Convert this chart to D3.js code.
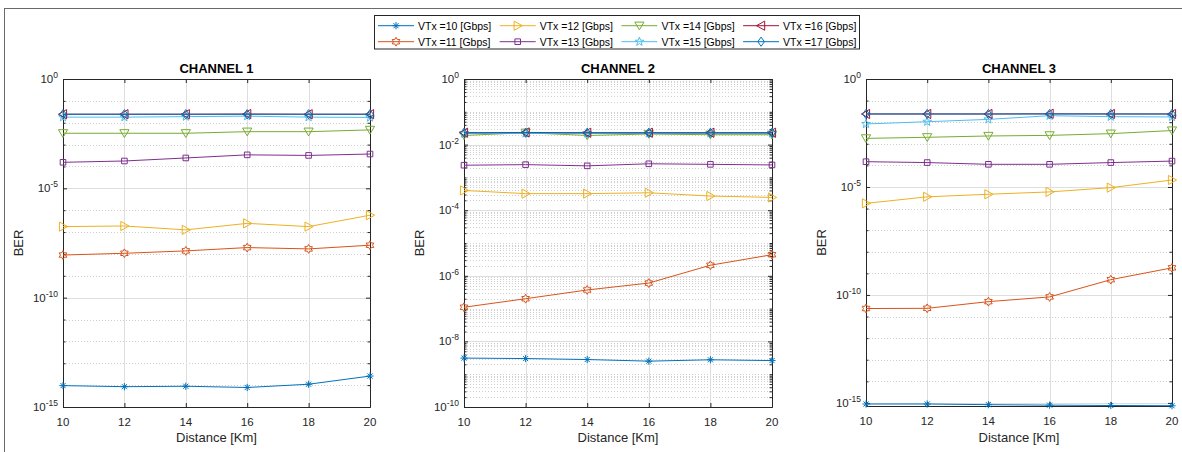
<!DOCTYPE html>
<html>
<head>
<meta charset="utf-8">
<script src="https://cdn.jsdelivr.net/npm/d3@7"></script>
<style>
  html, body { margin: 0; padding: 0; background: #fff; }
  svg { display: block; font-family: "Liberation Sans", Arial, Helvetica, sans-serif; }
</style>
</head>
<body>
<svg id="chart" width="1182" height="452"></svg>
<script>
// ---------------- DATA ----------------
const distance = [10, 12, 14, 16, 18, 20];
const xTickValues = [10, 12, 14, 16, 18, 20];
const seriesLabels = ["VTx =10 [Gbps]", "VTx =11 [Gbps]", "VTx =12 [Gbps]", "VTx =13 [Gbps]",
                      "VTx =14 [Gbps]", "VTx =15 [Gbps]", "VTx =16 [Gbps]", "VTx =17 [Gbps]"];
const panelTitles = ["CHANNEL 1", "CHANNEL 2", "CHANNEL 3"];
const ch1YTickExps = [0, -5, -10, -15];
const ch2YTickExps = [0, -2, -4, -6, -8, -10];
const ch3YTickExps = [0, -5, -10, -15];

// BER values, one row per VTx (10..17), columns = distance
const ch1 = [
  [9.5e-15, 8.5e-15, 8.9e-15, 7.8e-15, 1.1e-14, 2.6e-14],
  [8.9e-9, 1.07e-8, 1.38e-8, 1.95e-8, 1.7e-8, 2.5e-8],
  [1.78e-7, 1.9e-7, 1.26e-7, 2.5e-7, 1.78e-7, 5.9e-7],
  [1.55e-4, 1.78e-4, 2.45e-4, 3.4e-4, 3.2e-4, 3.7e-4],
  [3.3e-3, 3.3e-3, 3.3e-3, 3.9e-3, 3.9e-3, 4.7e-3],
  [1.8e-2, 1.8e-2, 1.9e-2, 2.0e-2, 1.8e-2, 1.75e-2],
  [2.45e-2, 2.45e-2, 2.45e-2, 2.5e-2, 2.45e-2, 2.45e-2],
  [2.45e-2, 2.45e-2, 2.45e-2, 2.45e-2, 2.45e-2, 2.45e-2]
];
const ch2 = [
  [3.1e-9, 3.0e-9, 2.8e-9, 2.5e-9, 2.75e-9, 2.6e-9],
  [1.1e-7, 2.0e-7, 3.7e-7, 6.0e-7, 2.1e-6, 4.4e-6],
  [4.0e-4, 3.2e-4, 3.2e-4, 3.4e-4, 2.7e-4, 2.45e-4],
  [2.35e-3, 2.45e-3, 2.25e-3, 2.6e-3, 2.5e-3, 2.4e-3],
  [1.9e-2, 2.3e-2, 1.9e-2, 2.1e-2, 2.0e-2, 2.0e-2],
  [2.2e-2, 2.2e-2, 2.2e-2, 2.2e-2, 2.2e-2, 2.2e-2],
  [2.3e-2, 2.35e-2, 2.3e-2, 2.3e-2, 2.3e-2, 2.3e-2],
  [2.3e-2, 2.3e-2, 2.3e-2, 2.3e-2, 2.3e-2, 2.3e-2]
];
const ch3 = [
  [8.9e-16, 8.9e-16, 8.3e-16, 7.9e-16, 7.6e-16, 7.4e-16],
  [2.35e-11, 2.4e-11, 4.9e-11, 8.1e-11, 5.1e-10, 1.8e-9],
  [1.74e-6, 3.5e-6, 4.6e-6, 5.9e-6, 9.3e-6, 2.1e-5],
  [1.48e-4, 1.35e-4, 1.12e-4, 1.12e-4, 1.35e-4, 1.58e-4],
  [1.78e-3, 2.0e-3, 2.3e-3, 2.45e-3, 2.95e-3, 4.1e-3],
  [8.3e-3, 1.05e-2, 1.35e-2, 2.0e-2, 1.8e-2, 1.75e-2],
  [2.4e-2, 2.4e-2, 2.4e-2, 2.45e-2, 2.4e-2, 2.4e-2],
  [2.4e-2, 2.4e-2, 2.4e-2, 2.4e-2, 2.4e-2, 2.4e-2]
];

// ---------------- STYLE ----------------
const seriesColors = ["#0072BD", "#D95319", "#EDB120", "#7E2F8E", "#77AC30", "#4DBEEE", "#A2142F", "#0072BD"];
const seriesMarkers = ["asterisk", "hexagram", "triRight", "square", "triDown", "pentagram", "triLeft", "diamond"];

function starPath(n, rOut, rIn) {
  const pts = [];
  for (let i = 0; i < 2 * n; i++) {
    const r = i % 2 === 0 ? rOut : rIn;
    const a = -Math.PI / 2 + i * Math.PI / n;
    pts.push([r * Math.cos(a), r * Math.sin(a)]);
  }
  return "M" + pts.map(p => p[0].toFixed(2) + "," + p[1].toFixed(2)).join("L") + "Z";
}
function markerPath(type) {
  switch (type) {
    case "asterisk": { const r = 3.6, d = r * 0.707;
      return `M${-r},0H${r}M0,${-r}V${r}M${-d},${-d}L${d},${d}M${-d},${d}L${d},${-d}`; }
    case "hexagram": return starPath(6, 4.4, 2.55);
    case "triRight": return "M4.6,0L-3.6,-4.6L-3.6,4.6Z";
    case "square": return "M-2.8,-2.8H2.8V2.8H-2.8Z";
    case "triDown": return "M0,4.2L-4.6,-3.6L4.6,-3.6Z";
    case "pentagram": return starPath(5, 4.6, 1.9);
    case "triLeft": return "M-4.6,0L3.6,-4.6L3.6,4.6Z";
    case "diamond": return "M0,-4.6L3.3,0L0,4.6L-3.3,0Z";
  }
}

const panels = [
  { title: panelTitles[0], data: ch1, ticks: ch1YTickExps, x0: 63, x1: 370, y0: 79, y1: 407, yMin: 1e-15, dense: false },
  { title: panelTitles[1], data: ch2, ticks: ch2YTickExps, x0: 464, x1: 772, y0: 79, y1: 407, yMin: 1e-10, dense: true },
  { title: panelTitles[2], data: ch3, ticks: ch3YTickExps, x0: 866, x1: 1172, y0: 79, y1: 406, yMin: 7.2e-16, dense: false }
];

const svg = d3.select("#chart");
// figure frame (cropped)
svg.append("rect").attr("x", 4.5).attr("y", 8.5).attr("width", 1200).attr("height", 500)
  .attr("fill", "none").attr("stroke", "#6a6a6a").attr("stroke-width", 1);

const axisColor = "#262626";

panels.forEach(p => {
  const g = svg.append("g");
  const x = d3.scaleLinear().domain([10, 20]).range([p.x0, p.x1]);
  const y = d3.scaleLog().domain([p.yMin, 1]).range([p.y1, p.y0]);

  g.append("rect").attr("x", p.x0).attr("y", p.y0).attr("width", p.x1 - p.x0).attr("height", p.y1 - p.y0).attr("fill", "#fff");

  // minor y grid
  const lowExp = Math.ceil(Math.log10(p.yMin) - 1e-9);
  const minorVals = [];
  for (let e = lowExp - 1; e < 0; e++) {
    if (p.dense) {
      for (let m = 1; m <= 9; m++) {
        const v = m * Math.pow(10, e);
        if (v >= p.yMin && v < 1 && !(m === 1 && p.ticks.includes(e))) minorVals.push(v);
      }
    } else {
      const v = Math.pow(10, e);
      if (v >= p.yMin && !p.ticks.includes(e)) minorVals.push(v);
    }
  }
  g.selectAll(".mg").data(minorVals).enter().append("line")
    .attr("x1", p.x0).attr("x2", p.x1)
    .attr("y1", d => Math.round(y(d)) + 0.5).attr("y2", d => Math.round(y(d)) + 0.5)
    .attr("stroke", "#c4c4c4").attr("stroke-width", 0.8).attr("stroke-dasharray", "1,2");

  // major grid
  g.selectAll(".gx").data(xTickValues).enter().append("line")
    .attr("x1", d => Math.round(x(d)) + 0.5).attr("x2", d => Math.round(x(d)) + 0.5)
    .attr("y1", p.y0).attr("y2", p.y1).attr("stroke", "#dedede").attr("stroke-width", 1);
  g.selectAll(".gy").data(p.ticks).enter().append("line")
    .attr("x1", p.x0).attr("x2", p.x1)
    .attr("y1", d => Math.round(y(Math.pow(10, d))) + 0.5).attr("y2", d => Math.round(y(Math.pow(10, d))) + 0.5)
    .attr("stroke", "#dedede").attr("stroke-width", 1);

  // axes box with d3 axes (ticks inside)
  const bottom = d3.axisBottom(x).tickValues(xTickValues).tickSizeInner(-4).tickSizeOuter(0).tickFormat("");
  const top = d3.axisTop(x).tickValues(xTickValues).tickSizeInner(-4).tickSizeOuter(0).tickFormat("");
  const majorY = p.ticks.map(e => Math.pow(10, e));
  const left = d3.axisLeft(y).tickValues(majorY).tickSizeInner(-4).tickSizeOuter(0).tickFormat("");
  const right = d3.axisRight(y).tickValues(majorY).tickSizeInner(-4).tickSizeOuter(0).tickFormat("");
  const leftMinor = d3.axisLeft(y).tickValues(minorVals).tickSizeInner(-2.5).tickSizeOuter(0).tickFormat("");
  const rightMinor = d3.axisRight(y).tickValues(minorVals).tickSizeInner(-2.5).tickSizeOuter(0).tickFormat("");
  const axes = [
    [bottom, `translate(0,${p.y1})`], [top, `translate(0,${p.y0})`],
    [left, `translate(${p.x0},0)`], [right, `translate(${p.x1},0)`],
    [leftMinor, `translate(${p.x0},0)`], [rightMinor, `translate(${p.x1},0)`]
  ];
  axes.forEach(([ax, tr]) => {
    const a = g.append("g").attr("transform", tr).call(ax);
    a.selectAll("path").attr("stroke", axisColor).attr("stroke-width", 1);
    a.selectAll("line").attr("stroke", axisColor).attr("stroke-width", 1);
  });

  // series
  const line = d3.line().x((d, i) => x(distance[i])).y(d => y(d));
  p.data.forEach((vals, si) => {
    g.append("path").datum(vals).attr("d", line)
      .attr("fill", "none").attr("stroke", seriesColors[si]).attr("stroke-width", 1);
    g.selectAll(null).data(vals).enter().append("path")
      .attr("transform", (d, i) => `translate(${x(distance[i])},${y(d)})`)
      .attr("d", markerPath(seriesMarkers[si]))
      .attr("fill", "none").attr("stroke", seriesColors[si]).attr("stroke-width", 1);
  });

  // x tick labels
  g.selectAll(".xl").data(xTickValues).enter().append("text")
    .attr("x", d => x(d)).attr("y", p.y1 + 19).attr("text-anchor", "middle")
    .attr("font-size", 11.5).attr("fill", axisColor).text(d => d);
  // y tick labels
  p.ticks.forEach(e => {
    const t = g.append("text").attr("x", p.x0 - 5).attr("y", y(Math.pow(10, e)) + 4)
      .attr("text-anchor", "end").attr("font-size", 11.5).attr("fill", axisColor);
    t.append("tspan").text("10");
    t.append("tspan").attr("dy", -5).attr("font-size", 8.5).text(e === 0 ? "0" : "-" + Math.abs(e));
  });
  // titles and axis labels
  g.append("text").attr("x", (p.x0 + p.x1) / 2).attr("y", p.y0 - 6).attr("text-anchor", "middle")
    .attr("font-size", 13).attr("font-weight", "bold").attr("fill", "#000").text(p.title);
  g.append("text").attr("x", (p.x0 + p.x1) / 2).attr("y", 442).attr("text-anchor", "middle")
    .attr("font-size", 13).attr("fill", axisColor).text("Distance [Km]");
  g.append("text").attr("transform", `translate(${p.x0 - 40},${(p.y0 + p.y1) / 2}) rotate(-90)`)
    .attr("text-anchor", "middle").attr("font-size", 13).attr("fill", axisColor).text("BER");
});

// legend
const lg = svg.append("g");
lg.append("rect").attr("x", 374.5).attr("y", 15.5).attr("width", 485).attr("height", 33.5)
  .attr("fill", "#fff").attr("stroke", axisColor).attr("stroke-width", 1);
seriesLabels.forEach((lab, i) => {
  const col = Math.floor(i / 2), row = i % 2;
  const lx = 378 + col * 121.7, ly = 25.7 + row * 16;
  lg.append("line").attr("x1", lx).attr("x2", lx + 36).attr("y1", ly).attr("y2", ly)
    .attr("stroke", seriesColors[i]).attr("stroke-width", 1);
  lg.append("path").attr("transform", `translate(${lx + 18},${ly})`).attr("d", markerPath(seriesMarkers[i]))
    .attr("fill", "none").attr("stroke", seriesColors[i]).attr("stroke-width", 1);
  lg.append("text").attr("x", lx + 40).attr("y", ly + 3.8).attr("font-size", 10.5).attr("fill", "#000").text(lab);
});
</script>
</body>
</html>
